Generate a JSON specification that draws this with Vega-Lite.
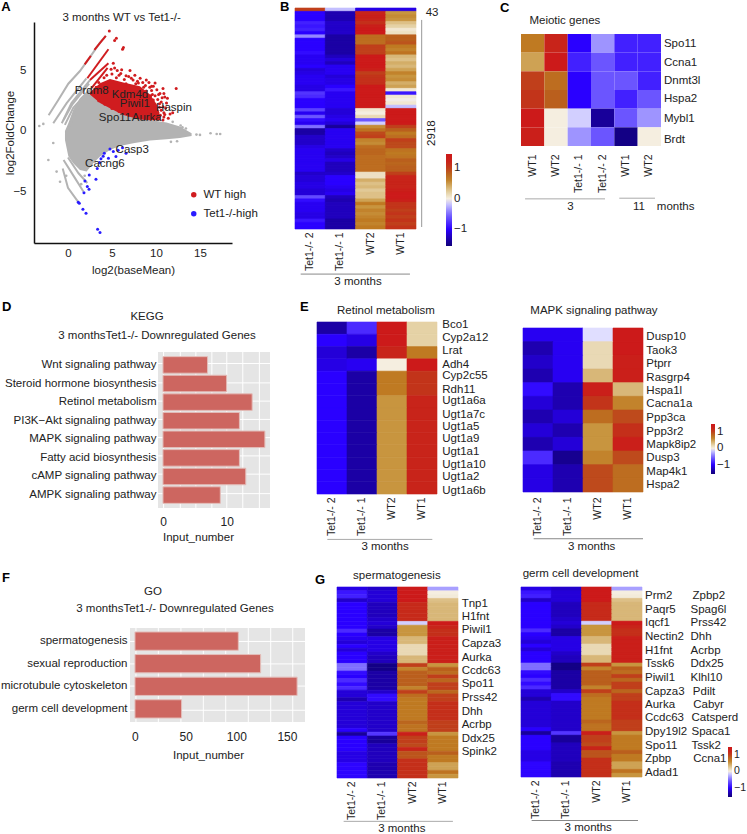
{"$schema":"https://vega.github.io/schema/vega-lite/v6.json","padding":0,"background":"white","width":747,"height":834,"autosize":{"type":"none"},
"config":{"font":"Liberation Sans","view":{"stroke":null},"axis":{"grid":false,"ticks":false,"domain":false,"labelFontSize":11.5,"titleFontSize":11.5,"titleFontWeight":"normal","labelColor":"#222","titleColor":"#222"},"text":{"fontSize":11.5,"color":"#222","align":"left","baseline":"middle"},"legend":{"labelFontSize":11.5,"labelColor":"#222"}},
"resolve":{"scale":{"x":"independent","y":"independent","color":"independent","stroke":"independent"},"axis":{"x":"independent","y":"independent"},"legend":{"color":"independent","stroke":"independent"}},
"datasets":{
"b":[{"r":0,"a":1,"b":-0.2,"c":-1.1,"d":-1.1},{"r":1,"a":-1,"b":-1.3,"c":1.2,"d":0.5},{"r":2,"a":-1,"b":-1.3,"c":1.25,"d":0.55},{"r":3,"a":-1,"b":-1.3,"c":1.2,"d":0.5},{"r":4,"a":-0.85,"b":-1.2,"c":1.1,"d":0.3},{"r":5,"a":-0.9,"b":-1.2,"c":1.25,"d":0.2},{"r":6,"a":-0.85,"b":-1.2,"c":1.3,"d":0.05},{"r":7,"a":-1,"b":-1.2,"c":1.3,"d":0.1},{"r":8,"a":-0.4,"b":-1.35,"c":0.75,"d":0.85},{"r":9,"a":-1,"b":-1.35,"c":0.75,"d":0.85},{"r":10,"a":-1,"b":-1.35,"c":0.75,"d":0.9},{"r":11,"a":-1,"b":-1.35,"c":1,"d":0.65},{"r":12,"a":-1,"b":-1.35,"c":1,"d":0.6},{"r":13,"a":-0.95,"b":-1.35,"c":1,"d":0.7},{"r":14,"a":-1.05,"b":-1.25,"c":1.3,"d":0.35},{"r":15,"a":-1.05,"b":-1.15,"c":1.3,"d":0.3},{"r":16,"a":-1.05,"b":-1.25,"c":1.3,"d":0.4},{"r":17,"a":-1,"b":-1.05,"c":1.3,"d":0.35},{"r":18,"a":-1.15,"b":-1.05,"c":1.25,"d":0.45},{"r":19,"a":-1.1,"b":-1.05,"c":1,"d":0.6},{"r":20,"a":-1.05,"b":-1.15,"c":1.05,"d":0.5},{"r":21,"a":-1.05,"b":-1.1,"c":1.1,"d":0.55},{"r":22,"a":-1.05,"b":-1.1,"c":1.1,"d":0.4},{"r":23,"a":-1.1,"b":-1,"c":1.3,"d":0.45},{"r":24,"a":-1.1,"b":-0.9,"c":1.3,"d":0.05},{"r":25,"a":-0.75,"b":-1.05,"c":1.35,"d":-0.9},{"r":26,"a":-0.8,"b":-1.05,"c":1.35,"d":0.05},{"r":27,"a":-1,"b":-1.05,"c":1.35,"d":-0.02},{"r":28,"a":-1,"b":-1.05,"c":1.35,"d":0.05},{"r":29,"a":-1,"b":-1.05,"c":1.35,"d":-0.2},{"r":30,"a":-0.7,"b":-1.15,"c":0.05,"d":1.35},{"r":31,"a":-1.05,"b":-1.15,"c":0,"d":1.35},{"r":32,"a":-0.6,"b":-1.1,"c":0.15,"d":1.35},{"r":33,"a":-0.95,"b":-1.05,"c":-0.6,"d":1.35},{"r":34,"a":-1.05,"b":-1.15,"c":-0.15,"d":1.35},{"r":35,"a":-0.5,"b":-1.4,"c":0.55,"d":1},{"r":36,"a":-1.35,"b":-1.05,"c":0.7,"d":0.85},{"r":37,"a":-1.35,"b":-1.05,"c":0.95,"d":0.65},{"r":38,"a":-1.2,"b":-1.05,"c":1,"d":0.75},{"r":39,"a":-1.2,"b":-1.05,"c":0.6,"d":1},{"r":40,"a":-1.2,"b":-1.05,"c":0.55,"d":0.95},{"r":41,"a":-1.1,"b":-1.05,"c":0.75,"d":0.95},{"r":42,"a":-1.05,"b":-1.2,"c":0.8,"d":0.7},{"r":43,"a":-1.05,"b":-1.25,"c":0.8,"d":0.65},{"r":44,"a":-1.05,"b":-1.2,"c":0.75,"d":0.7},{"r":45,"a":-1.05,"b":-1.1,"c":0.75,"d":0.85},{"r":46,"a":-1.05,"b":-1.25,"c":0.75,"d":0.8},{"r":47,"a":-1.05,"b":-1.25,"c":0.75,"d":0.85},{"r":48,"a":-1.05,"b":-1.25,"c":0.75,"d":0.85},{"r":49,"a":-1.2,"b":-1.2,"c":0.1,"d":1},{"r":50,"a":-1.15,"b":-1,"c":0.1,"d":1.2},{"r":51,"a":-1.15,"b":-1,"c":0.4,"d":1.2},{"r":52,"a":-1.1,"b":-1,"c":0.3,"d":1.2},{"r":53,"a":-1.1,"b":-1.05,"c":0.35,"d":1.2},{"r":54,"a":-1.15,"b":-1.1,"c":0.25,"d":1.25},{"r":55,"a":-1.15,"b":-1.05,"c":0.3,"d":1.3},{"r":56,"a":-0.65,"b":-1.25,"c":0.3,"d":1.3},{"r":57,"a":-0.95,"b":-1.3,"c":0.45,"d":1.25},{"r":58,"a":-1.05,"b":-1.25,"c":0.65,"d":1.05},{"r":59,"a":-1.05,"b":-1.25,"c":0.5,"d":1.05},{"r":60,"a":-1.05,"b":-1.25,"c":0.6,"d":1},{"r":61,"a":-1.1,"b":-1.25,"c":0.55,"d":1.05},{"r":62,"a":-1.1,"b":-1.25,"c":0.6,"d":1},{"r":63,"a":-0.9,"b":-1.35,"c":0.65,"d":1.05},{"r":64,"a":-1,"b":-1.35,"c":0.6,"d":1},{"r":65,"a":-1,"b":-1.35,"c":0.65,"d":1.05}],
"g":[{"r":0,"a":-1.1,"b":-1.2,"c":1.35,"d":-0.3},{"r":1,"a":-0.9,"b":-1.15,"c":1.35,"d":0},{"r":2,"a":-0.85,"b":-1.15,"c":1.35,"d":0.02},{"r":3,"a":-1.2,"b":-1.15,"c":1.35,"d":0.3},{"r":4,"a":-1,"b":-1.25,"c":1.15,"d":0.35},{"r":5,"a":-1,"b":-1.25,"c":1.15,"d":0.35},{"r":6,"a":-1,"b":-1.25,"c":1.15,"d":0.35},{"r":7,"a":-1,"b":-1.25,"c":1.15,"d":0.35},{"r":8,"a":-1,"b":-1.2,"c":1.15,"d":0.35},{"r":9,"a":-1,"b":-1.15,"c":-0.15,"d":1.3},{"r":10,"a":-1,"b":-1.2,"c":0.5,"d":1.2},{"r":11,"a":-0.8,"b":-1.35,"c":0.5,"d":1.1},{"r":12,"a":-1,"b":-1.35,"c":0.5,"d":1.1},{"r":13,"a":-1.05,"b":-1.1,"c":0.35,"d":1.25},{"r":14,"a":-1.15,"b":-1.1,"c":0.35,"d":1.25},{"r":15,"a":-1,"b":-1.1,"c":0.15,"d":1.25},{"r":16,"a":-1.15,"b":-1.1,"c":0.15,"d":1.25},{"r":17,"a":-1,"b":-1.2,"c":0.15,"d":1.25},{"r":18,"a":-1,"b":-1.25,"c":0.35,"d":1.25},{"r":19,"a":-1,"b":-1.25,"c":0.35,"d":1.25},{"r":20,"a":-0.5,"b":-1.5,"c":1,"d":0.5},{"r":21,"a":-0.5,"b":-1.5,"c":0.6,"d":0.85},{"r":22,"a":-0.95,"b":-1.35,"c":0.85,"d":0.75},{"r":23,"a":-1,"b":-1.35,"c":0.85,"d":1},{"r":24,"a":-0.8,"b":-1.35,"c":0.85,"d":0.8},{"r":25,"a":-0.95,"b":-1.35,"c":0.85,"d":1},{"r":26,"a":-0.8,"b":-1.35,"c":0.6,"d":1},{"r":27,"a":-1.15,"b":-1.2,"c":1,"d":0.8},{"r":28,"a":-1.15,"b":-0.95,"c":0.75,"d":1},{"r":29,"a":-1.3,"b":-0.95,"c":0.65,"d":1},{"r":30,"a":-1.15,"b":-1.2,"c":0.65,"d":1.1},{"r":31,"a":-1.15,"b":-1.2,"c":0.65,"d":1.1},{"r":32,"a":-1.15,"b":-1.2,"c":0.65,"d":1.1},{"r":33,"a":-1.15,"b":-1.2,"c":0.65,"d":1.1},{"r":34,"a":-1.15,"b":-1.2,"c":0.65,"d":1.1},{"r":35,"a":-1.15,"b":-1.2,"c":0.8,"d":1},{"r":36,"a":-1.15,"b":-1.2,"c":0.7,"d":1},{"r":37,"a":-1,"b":-1.2,"c":0.7,"d":1},{"r":38,"a":-1.4,"b":-0.75,"c":1.25,"d":0.5},{"r":39,"a":-1,"b":-1.4,"c":1,"d":0.65},{"r":40,"a":-1,"b":-1.4,"c":1,"d":0.65},{"r":41,"a":-1,"b":-1.25,"c":0.95,"d":0.65},{"r":42,"a":-1,"b":-1.25,"c":1.2,"d":0.65},{"r":43,"a":-1.1,"b":-1.25,"c":0.9,"d":0.85},{"r":44,"a":-1.1,"b":-1.25,"c":0.9,"d":0.65},{"r":45,"a":-1.1,"b":-1.25,"c":1.1,"d":0.65},{"r":46,"a":-0.98,"b":-1.3,"c":1.1,"d":0.45},{"r":47,"a":-0.98,"b":-1.3,"c":1.1,"d":0.45},{"r":48,"a":-0.98,"b":-1.3,"c":1.1,"d":0.7},{"r":49,"a":-0.98,"b":-1.3,"c":1.1,"d":0.5}],
"e2":[{"r":"Dusp10","a":-1.05,"b":-1.05,"c":-0.1,"d":1.35},{"r":"Taok3","a":-1.3,"b":-1.05,"c":0.15,"d":1.35},{"r":"Ptprr","a":-1.2,"b":-1.05,"c":0.15,"d":1.25},{"r":"Rasgrp4","a":-1.3,"b":-1.05,"c":0.35,"d":1.25},{"r":"Hspa1l","a":-0.95,"b":-1.3,"c":1.25,"d":0.35},{"r":"Cacna1a","a":-1.15,"b":-1.3,"c":1.05,"d":0.6},{"r":"Ppp3ca","a":-1.3,"b":-1.15,"c":0.75,"d":0.95},{"r":"Ppp3r2","a":-1.15,"b":-1.3,"c":0.5,"d":1.1},{"r":"Mapk8ip2","a":-1.3,"b":-1.15,"c":0.5,"d":1.25},{"r":"Dusp3","a":-0.8,"b":-1.45,"c":0.6,"d":0.95},{"r":"Map4k1","a":-1.1,"b":-1.3,"c":0.95,"d":0.75},{"r":"Hspa2","a":-1.1,"b":-1.3,"c":0.95,"d":0.75}]
},
"layer":[
{"encoding":{"x":{"field":"x","type":"quantitative","title":"log2(baseMean)","scale":{"domain":[-3.86,18.64],"range":[34,232],"nice":false,"zero":false},"axis":{"orient":"bottom","offset":-591,"domain":true,"domainColor":"#111","domainWidth":1.5,"values":[0,5,10,15],"labelPadding":4,"titlePadding":6}},"y":{"field":"y","type":"quantitative","title":"log2FoldChange","scale":{"domain":[-9.26,9],"range":[243,22],"nice":false,"zero":false},"axis":{"orient":"left","offset":-34,"domain":true,"domainColor":"#111","domainWidth":1.5,"values":[-5,0,5],"labelPadding":8,"titlePadding":-3}}},
"layer":[
{"data":{"values":[{"x":-0.34,"y":0,"y2":-0.75},{"x":0.04,"y":0.63,"y2":-2.1},{"x":0.6,"y":1.75,"y2":-2.67},{"x":1.36,"y":2.7,"y2":-3.22},{"x":2.12,"y":3.25,"y2":-3.36},{"x":2.88,"y":3.3,"y2":-2.67},{"x":3.64,"y":2.7,"y2":-2.12},{"x":4.77,"y":2,"y2":-1.57},{"x":5.9,"y":1.6,"y2":-1.24},{"x":7.42,"y":1.18,"y2":-1.02},{"x":9.32,"y":0.9,"y2":-0.8},{"x":11.2,"y":0.69,"y2":-0.69},{"x":12.73,"y":0.36,"y2":-0.58},{"x":14.05,"y":-0.19,"y2":-0.41}]},"mark":{"type":"area","color":"#b3b3b3"},"encoding":{"y2":{"field":"y2"}}},
{"data":{"values":[{"s":1,"x":-2.2,"y":1.3},{"s":1,"x":-1.1,"y":2.55},{"s":1,"x":0.04,"y":3.9},{"s":1,"x":1.36,"y":4.95},{"s":1,"x":2.5,"y":6.1},{"s":1,"x":3.6,"y":7.25},{"s":1,"x":4.3,"y":7.85},{"s":2,"x":-1.67,"y":0.63},{"s":2,"x":-0.15,"y":2.3},{"s":2,"x":2.1,"y":4.35},{"s":3,"x":-0.7,"y":0.63},{"s":3,"x":0.4,"y":2.3},{"s":3,"x":2.5,"y":4.2},{"s":4,"x":-0.35,"y":0.5},{"s":4,"x":0.6,"y":1.9},{"s":4,"x":2.7,"y":3.55},{"s":5,"x":0.1,"y":0.3},{"s":5,"x":1.1,"y":1.8},{"s":5,"x":2.9,"y":3.3},{"s":6,"x":-0.5,"y":-2.4},{"s":6,"x":0.8,"y":-3.9},{"s":6,"x":1.75,"y":-5},{"s":7,"x":-0.6,"y":-3.1},{"s":7,"x":0,"y":-4.7},{"s":7,"x":1.2,"y":-5.9},{"s":8,"x":0,"y":-2.2},{"s":8,"x":1.2,"y":-3.5},{"s":8,"x":2.2,"y":-4.3},{"s":9,"x":-0.5,"y":0.9},{"s":9,"x":0.5,"y":2.2},{"s":9,"x":2.4,"y":3.9}]},"mark":{"type":"line","color":"#b3b3b3","strokeWidth":2},"encoding":{"detail":{"field":"s"}}},
{"data":{"values":[{"s":1,"x":1.9,"y":5.5},{"s":1,"x":2.6,"y":6.2},{"s":2,"x":3,"y":6.7},{"s":2,"x":4.3,"y":7.85},{"s":3,"x":2.2,"y":4.35},{"s":3,"x":4.6,"y":6.75},{"s":4,"x":2.5,"y":4.2},{"s":4,"x":4.6,"y":5.6},{"s":5,"x":2.7,"y":3.55},{"s":5,"x":4.5,"y":5.2}]},"mark":{"type":"line","color":"#d01c1f","strokeWidth":2},"encoding":{"detail":{"field":"s"}}},
{"data":{"values":[{"x":2.5,"y":3.2,"y2":3},{"x":3.64,"y":3.94,"y2":2.3},{"x":4.77,"y":4.3,"y2":1.87},{"x":6.29,"y":4,"y2":1.32},{"x":8.18,"y":3.7,"y2":0.95},{"x":9.32,"y":3,"y2":0.88},{"x":10.08,"y":2.2,"y2":0.88},{"x":10.5,"y":1.2,"y2":0.88}]},"mark":{"type":"area","color":"#d01c1f"},"encoding":{"y2":{"field":"y2"}}},
{"data":{"values":[{"x":-3.26,"y":0.41},{"x":-2.8,"y":0.58},{"x":15,"y":-0.33},{"x":16.2,"y":-0.19},{"x":16.9,"y":-0.25},{"x":17.3,"y":-0.25},{"x":14.6,"y":-0.3},{"x":-2.23,"y":-2.4},{"x":-1.29,"y":-3.36},{"x":-1.67,"y":-1},{"x":-0.9,"y":-4.2},{"x":11.7,"y":-0.9},{"x":12.4,"y":-0.85},{"x":13,"y":0.3},{"x":13.4,"y":0.2},{"x":11.9,"y":0.75},{"x":12.8,"y":0.45},{"x":-0.2,"y":-3.7},{"x":1.9,"y":-3.7},{"x":1.5,"y":-4.4}]},"mark":{"type":"point","filled":true,"color":"#b3b3b3","size":7,"opacity":1}},
{"data":{"values":[{"c":"WT high","x":4.7,"y":8.25},{"c":"WT high","x":5.5,"y":7.66},{"c":"WT high","x":5.3,"y":7.47},{"c":"WT high","x":6.3,"y":6.9},{"c":"WT high","x":6.2,"y":6.75},{"c":"WT high","x":5.15,"y":5.6},{"c":"WT high","x":5.6,"y":5},{"c":"WT high","x":5.3,"y":5.2},{"c":"WT high","x":7.05,"y":5},{"c":"WT high","x":6,"y":4.75},{"c":"WT high","x":7.6,"y":4.6},{"c":"WT high","x":6.6,"y":4.55},{"c":"WT high","x":8.2,"y":4.35},{"c":"WT high","x":8.9,"y":4.2},{"c":"WT high","x":7.2,"y":4.35},{"c":"WT high","x":9.9,"y":3.95},{"c":"WT high","x":10.8,"y":3.5},{"c":"WT high","x":12.3,"y":3.5},{"c":"WT high","x":10.45,"y":3.1},{"c":"WT high","x":11,"y":2.8},{"c":"WT high","x":10.1,"y":3.4},{"c":"WT high","x":9.7,"y":3.7},{"c":"WT high","x":9.3,"y":3.6},{"c":"WT high","x":11.2,"y":2.3},{"c":"WT high","x":10.8,"y":2},{"c":"WT high","x":9.7,"y":2.55},{"c":"WT high","x":10.1,"y":1.7},{"c":"WT high","x":11.6,"y":1.4},{"c":"WT high","x":11.9,"y":1.5},{"c":"WT high","x":11.4,"y":1.05},{"c":"WT high","x":10.8,"y":0.9},{"c":"WT high","x":10.1,"y":1.3},{"c":"WT high","x":10.5,"y":1.3},{"c":"WT high","x":9,"y":2.55},{"c":"WT high","x":9.2,"y":2.1},{"c":"WT high","x":8.6,"y":3.6},{"c":"WT high","x":8,"y":3.95},{"c":"WT high","x":6.6,"y":3.9},{"c":"WT high","x":9.6,"y":3},{"c":"WT high","x":10.2,"y":2.6},{"c":"WT high","x":10.6,"y":2.4},{"c":"WT high","x":9.4,"y":2.9},{"c":"WT high","x":8.9,"y":3.3},{"c":"WT high","x":9.9,"y":2.1},{"c":"WT high","x":10.4,"y":1.95},{"c":"WT high","x":9.8,"y":1.5},{"c":"WT high","x":10.3,"y":1},{"c":"WT high","x":11,"y":1.35},{"c":"WT high","x":10.6,"y":1.7},{"c":"WT high","x":8.5,"y":3},{"c":"WT high","x":9.1,"y":1.4},{"c":"WT high","x":9.5,"y":1.1},{"c":"WT high","x":7.9,"y":4.1},{"c":"WT high","x":8.5,"y":4},{"c":"WT high","x":7.4,"y":4.2},{"c":"WT high","x":5.8,"y":4.6},{"c":"WT high","x":5,"y":4.7},{"c":"WT high","x":4.4,"y":4.6},{"c":"WT high","x":4.1,"y":4.4},{"c":"WT high","x":3.5,"y":4},{"c":"WT high","x":3.2,"y":3.6},{"c":"WT high","x":3.9,"y":3.3},{"c":"WT high","x":4.9,"y":5.1},{"c":"WT high","x":6.1,"y":5.05},{"c":"WT high","x":6.9,"y":4.5},{"c":"WT high","x":9.2,"y":4},{"c":"WT high","x":9.5,"y":3.35},{"c":"WT high","x":10.9,"y":3.1},{"c":"WT high","x":11.3,"y":2.7},{"c":"WT high","x":11.1,"y":1.9},{"c":"WT high","x":10.2,"y":1.55},{"c":"WT high","x":8.7,"y":1.2},{"c":"WT high","x":7.8,"y":1.1},{"c":"WT high","x":6.9,"y":1.3},{"c":"WT high","x":5.8,"y":1.6},{"c":"WT high","x":5,"y":1.85},{"c":"WT high","x":4.2,"y":2.2},{"c":"WT high","x":3.5,"y":2.5},{"c":"WT high","x":8.8,"y":3.75},{"c":"WT high","x":7.7,"y":3.9},{"c":"WT high","x":6.4,"y":4.25},{"c":"WT high","x":5.5,"y":4.4},{"c":"WT high","x":9.9,"y":2.9},{"c":"WT high","x":10.3,"y":3},{"c":"WT high","x":10.7,"y":2.75},{"c":"WT high","x":10.4,"y":2.25},{"c":"WT high","x":9.5,"y":3.7},{"c":"WT high","x":10.9,"y":1.5},{"c":"WT high","x":10.9,"y":1.15},{"c":"Tet1-/-high","x":6.6,"y":-1.85},{"c":"Tet1-/-high","x":6.2,"y":-1.38},{"c":"Tet1-/-high","x":5.45,"y":-2.12},{"c":"Tet1-/-high","x":5.15,"y":-1.7},{"c":"Tet1-/-high","x":4.77,"y":-1.5},{"c":"Tet1-/-high","x":5.7,"y":-1.6},{"c":"Tet1-/-high","x":4.13,"y":-1.85},{"c":"Tet1-/-high","x":4,"y":-2.1},{"c":"Tet1-/-high","x":4.6,"y":-2.26},{"c":"Tet1-/-high","x":3.75,"y":-2.3},{"c":"Tet1-/-high","x":3.6,"y":-2.6},{"c":"Tet1-/-high","x":3.33,"y":-3.1},{"c":"Tet1-/-high","x":2.42,"y":-3.64},{"c":"Tet1-/-high","x":3.18,"y":-4},{"c":"Tet1-/-high","x":1.93,"y":-4.13},{"c":"Tet1-/-high","x":2.2,"y":-4.6},{"c":"Tet1-/-high","x":2.39,"y":-4.82},{"c":"Tet1-/-high","x":1.82,"y":-5.1},{"c":"Tet1-/-high","x":1.17,"y":-5.9},{"c":"Tet1-/-high","x":1.29,"y":-5.98},{"c":"Tet1-/-high","x":1.7,"y":-6.47},{"c":"Tet1-/-high","x":2.05,"y":-6.8},{"c":"Tet1-/-high","x":3.37,"y":-8.13},{"c":"Tet1-/-high","x":3.64,"y":-8.4}]},"mark":{"type":"point","filled":true,"size":9,"opacity":1},"encoding":{"color":{"field":"c","type":"nominal","scale":{"domain":["WT high","Tet1-/-high"],"range":["#d01c1f","#2a1cff"]},"legend":{"title":null,"orient":"none","legendX":188,"legendY":189,"symbolSize":30,"rowPadding":6,"labelFontSize":11.5,"symbolType":"circle"}}}},
{"data":{"values":[{"t":"Prdm8","x":2.7,"y":3.27},{"t":"Kdm4d","x":7.05,"y":2.98},{"t":"Piwil1","x":7.6,"y":2.2},{"t":"Haspin","x":12.05,"y":1.88},{"t":"Spo11","x":5.35,"y":1.05},{"t":"Aurka","x":8.95,"y":1.05},{"t":"Casp3","x":7.3,"y":-1.57},{"t":"Cacng6","x":4.2,"y":-2.73},{"t":"3 months WT vs Tet1-/-","x":6.1,"y":9.3}]},"mark":{"type":"text","align":"center"},"encoding":{"text":{"field":"t"}}},
{"data":{"values":[{"t":"A","x":-3.6,"y":10.25}]},"mark":{"type":"text","fontWeight":"bold","fontSize":13,"color":"#000","dx":-35},"encoding":{"text":{"field":"t"}}}
]},

{"data":{"name":"b"},"transform":[{"fold":["a","b","c","d"]}],"mark":"rect","encoding":{"x":{"field":"key","type":"nominal","axis":null,"scale":{"domain":["a","b","c","d"],"range":[295,416],"paddingInner":0,"paddingOuter":0}},"y":{"field":"r","type":"ordinal","sort":null,"axis":null,"scale":{"range":[8,229],"paddingInner":0,"paddingOuter":0}},"color":{"field":"value","type":"quantitative","title":null,"scale":{"domain":[-1.55,-1.3,-1,-0.6,-0.3,-0.1,0,0.2,0.4,0.5,0.65,0.85,1.05,1.3,1.46],"range":["#10007a","#1e00b0","#2a00ff","#6b55ff","#a8a0ff","#e0deff","#f5eee0","#e5d2a6","#d4ae68","#c8953f","#bf7a22","#ba5f1d","#c2341a","#cc1a1a","#cc1a1a"],"interpolate":"rgb","nice":false,"zero":false},"legend":{"orient":"none","legendX":446,"legendY":154,"gradientLength":92,"gradientThickness":6,"values":[-1,0,1],"labelFontSize":11.5,"gradientStrokeWidth":0}}}},
{"data":{"name":"b"},"transform":[{"fold":["a","b","c","d"]}],"mark":{"type":"rect","strokeWidth":0.6},"encoding":{"x":{"field":"key","type":"nominal","title":null,"scale":{"domain":["a","b","c","d"],"range":[295,416],"paddingInner":0,"paddingOuter":0},"axis":{"orient":"bottom","offset":-605,"labelAngle":-90,"labelPadding":3,"labelFontSize":10.5,"labelExpr":"{'a':'Tet1-/- 2','b':'Tet1-/- 1','c':'WT2','d':'WT1'}[datum.value]"}},"y":{"field":"r","type":"ordinal","sort":null,"axis":null,"scale":{"range":[8,229],"paddingInner":0,"paddingOuter":0}},"stroke":{"field":"value","type":"quantitative","legend":null,"scale":{"domain":[-1.55,-1.3,-1,-0.6,-0.3,-0.1,0,0.2,0.4,0.5,0.65,0.85,1.05,1.3,1.46],"range":["#10007a","#1e00b0","#2a00ff","#6b55ff","#a8a0ff","#e0deff","#f5eee0","#e5d2a6","#d4ae68","#c8953f","#bf7a22","#ba5f1d","#c2341a","#cc1a1a","#cc1a1a"],"interpolate":"rgb","nice":false,"zero":false}},"color":{"field":"value","type":"quantitative","legend":null,"scale":{"domain":[-1.55,-1.3,-1,-0.6,-0.3,-0.1,0,0.2,0.4,0.5,0.65,0.85,1.05,1.3,1.46],"range":["#10007a","#1e00b0","#2a00ff","#6b55ff","#a8a0ff","#e0deff","#f5eee0","#e5d2a6","#d4ae68","#c8953f","#bf7a22","#ba5f1d","#c2341a","#cc1a1a","#cc1a1a"],"interpolate":"rgb","nice":false,"zero":false}}}},
{"data":{"values":[{"x":1.047,"y":0.054,"y2":0.991}]},"mark":{"type":"rule","color":"#999"},"encoding":{"x":{"field":"x","type":"quantitative","axis":null,"scale":{"domain":[0,1],"range":[295,416],"nice":false,"zero":false}},"y":{"field":"y","type":"quantitative","axis":null,"scale":{"domain":[1,0],"range":[229,8],"nice":false,"zero":false}},"y2":{"field":"y2"}}},
{"data":{"values":[{"x":0.047,"x2":0.95,"y":1.204}]},"mark":{"type":"rule","color":"#888"},"encoding":{"x":{"field":"x","type":"quantitative","axis":null,"scale":{"domain":[0,1],"range":[295,416],"nice":false,"zero":false}},"x2":{"field":"x2"},"y":{"field":"y","type":"quantitative","axis":null,"scale":{"domain":[1,0],"range":[229,8],"nice":false,"zero":false}}}},
{"data":{"values":[{"t":"43","x":1.08,"y":0.023},{"t":"3 months","x":0.325,"y":1.24}]},"mark":{"type":"text"},"encoding":{"x":{"field":"x","type":"quantitative","axis":null,"scale":{"domain":[0,1],"range":[295,416],"nice":false,"zero":false}},"y":{"field":"y","type":"quantitative","axis":null,"scale":{"domain":[1,0],"range":[229,8],"nice":false,"zero":false}},"text":{"field":"t"}}},
{"data":{"values":[{"t":"2918","x":1.132,"y":0.566}]},"mark":{"type":"text","angle":270,"align":"center"},"encoding":{"x":{"field":"x","type":"quantitative","axis":null,"scale":{"domain":[0,1],"range":[295,416],"nice":false,"zero":false}},"y":{"field":"y","type":"quantitative","axis":null,"scale":{"domain":[1,0],"range":[229,8],"nice":false,"zero":false}},"text":{"field":"t"}}},
{"data":{"values":[{"t":"B","x":-0.124,"y":-0.005}]},"mark":{"type":"text","fontWeight":"bold","fontSize":13,"color":"#000"},"encoding":{"x":{"field":"x","type":"quantitative","axis":null,"scale":{"domain":[0,1],"range":[295,416],"nice":false,"zero":false}},"y":{"field":"y","type":"quantitative","axis":null,"scale":{"domain":[1,0],"range":[229,8],"nice":false,"zero":false}},"text":{"field":"t"}}},

{"data":{"values":[{"r":"Spo11","a":0.65,"b":1.2,"c":-1,"d":-0.35,"e":-0.85,"f":-0.85},{"r":"Ccna1","a":0.45,"b":1.4,"c":-0.85,"d":-0.6,"e":-0.85,"f":-0.85},{"r":"Dnmt3l","a":1,"b":0.75,"c":-1,"d":-0.6,"e":-0.6,"f":-0.85},{"r":"Hspa2","a":1.05,"b":0.85,"c":-1,"d":-0.6,"e":-0.85,"f":-0.6},{"r":"Mybl1","a":1.35,"b":0,"c":-0.15,"d":-1.4,"e":-0.6,"f":-0.35},{"r":"Brdt","a":1.25,"b":0,"c":-0.35,"d":-0.6,"e":-1.5,"f":0}]},"transform":[{"fold":["a","b","c","d","e","f"]}],"mark":"rect","encoding":{"x":{"field":"key","type":"nominal","title":null,"scale":{"domain":["a","b","c","d","e","f"],"range":[521,661],"paddingInner":0,"paddingOuter":0},"axis":{"orient":"bottom","offset":-688,"labelAngle":-90,"labelPadding":8,"labelFontSize":10.5,"labelExpr":"{'a':'WT1','b':'WT2','c':'Tet1-/- 1','d':'Tet1-/- 2','e':'WT1','f':'WT2'}[datum.value]"}},"y":{"field":"r","type":"ordinal","sort":null,"axis":null,"scale":{"range":[34,146],"paddingInner":0,"paddingOuter":0}},"color":{"field":"value","type":"quantitative","scale":{"domain":[-1.55,-1.3,-1,-0.6,-0.3,-0.1,0,0.2,0.4,0.5,0.65,0.85,1.05,1.3,1.46],"range":["#10007a","#1e00b0","#2a00ff","#6b55ff","#a8a0ff","#e0deff","#f5eee0","#e5d2a6","#d4ae68","#c8953f","#bf7a22","#ba5f1d","#c2341a","#cc1a1a","#cc1a1a"],"interpolate":"rgb","nice":false,"zero":false},"legend":null}}},
{"data":{"values":[{"x":0.029,"x2":0.6,"y":1.472},{"x":0.702,"x2":0.957,"y":1.466}]},"mark":{"type":"rule","color":"#aaa"},"encoding":{"x":{"field":"x","type":"quantitative","axis":null,"scale":{"domain":[0,1],"range":[521,661],"nice":false,"zero":false}},"x2":{"field":"x2"},"y":{"field":"y","type":"quantitative","axis":null,"scale":{"domain":[1,0],"range":[146,34],"nice":false,"zero":false}}}},
{"data":{"values":[{"t":"Spo11","x":1.021,"y":0.09},{"t":"Ccna1","x":1.021,"y":0.257},{"t":"Dnmt3l","x":1.021,"y":0.418},{"t":"Hspa2","x":1.021,"y":0.582},{"t":"Mybl1","x":1.021,"y":0.761},{"t":"Brdt","x":1.021,"y":0.949},{"t":"Meiotic genes","x":0.06,"y":-0.119},{"t":"3","x":0.33,"y":1.546},{"t":"11","x":0.8,"y":1.546},{"t":"months","x":0.97,"y":1.546}]},"mark":{"type":"text"},"encoding":{"x":{"field":"x","type":"quantitative","axis":null,"scale":{"domain":[0,1],"range":[521,661],"nice":false,"zero":false}},"y":{"field":"y","type":"quantitative","axis":null,"scale":{"domain":[1,0],"range":[146,34],"nice":false,"zero":false}},"text":{"field":"t"}}},
{"data":{"values":[{"t":"C","x":-0.15,"y":-0.232}]},"mark":{"type":"text","fontWeight":"bold","fontSize":13,"color":"#000"},"encoding":{"x":{"field":"x","type":"quantitative","axis":null,"scale":{"domain":[0,1],"range":[521,661],"nice":false,"zero":false}},"y":{"field":"y","type":"quantitative","axis":null,"scale":{"domain":[1,0],"range":[146,34],"nice":false,"zero":false}},"text":{"field":"t"}}},

{"data":{"values":[{"x":0,"x2":1,"y":0,"y2":1}]},"mark":{"type":"rect","color":"#e5e5e5"},"encoding":{"x":{"field":"x","type":"quantitative","axis":null,"scale":{"domain":[0,1],"range":[158,270],"nice":false,"zero":false}},"x2":{"field":"x2"},"y":{"field":"y","type":"quantitative","axis":null,"scale":{"domain":[1,0],"range":[508,352],"nice":false,"zero":false}},"y2":{"field":"y2"}}},
{"data":{"values":[{"x":0.05,"y":0,"y2":1},{"x":0.199,"y":0,"y2":1},{"x":0.338,"y":0,"y2":1},{"x":0.481,"y":0,"y2":1},{"x":0.614,"y":0,"y2":1},{"x":0.757,"y":0,"y2":1},{"x":0.905,"y":0,"y2":1}]},"mark":{"type":"rule","color":"white"},"encoding":{"x":{"field":"x","type":"quantitative","axis":null,"scale":{"domain":[0,1],"range":[158,270],"nice":false,"zero":false}},"y":{"field":"y","type":"quantitative","axis":null,"scale":{"domain":[1,0],"range":[508,352],"nice":false,"zero":false}},"y2":{"field":"y2"}}},
{"data":{"values":[{"x":0,"x2":1,"y":0.074},{"x":0,"x2":1,"y":0.198},{"x":0,"x2":1,"y":0.315},{"x":0,"x2":1,"y":0.432},{"x":0,"x2":1,"y":0.549},{"x":0,"x2":1,"y":0.666},{"x":0,"x2":1,"y":0.783},{"x":0,"x2":1,"y":0.908}]},"mark":{"type":"rule","color":"white"},"encoding":{"x":{"field":"x","type":"quantitative","axis":null,"scale":{"domain":[0,1],"range":[158,270],"nice":false,"zero":false}},"x2":{"field":"x2"},"y":{"field":"y","type":"quantitative","axis":null,"scale":{"domain":[1,0],"range":[508,352],"nice":false,"zero":false}}}},
{"data":{"values":[{"p":"Wnt signaling pathway","n":7},{"p":"Steroid hormone biosynthesis","n":10},{"p":"Retinol metabolism","n":14},{"p":"PI3K−Akt signaling pathway","n":12},{"p":"MAPK signaling pathway","n":16},{"p":"Fatty acid biosynthesis","n":12},{"p":"cAMP signaling pathway","n":13},{"p":"AMPK signaling pathway","n":9}]},"mark":{"type":"bar","fill":"#cd6660","stroke":"#e3bdb9","strokeWidth":1},"encoding":{"x":{"field":"n","type":"quantitative","title":"Input_number","scale":{"domain":[-0.78,16.8],"range":[158,270],"nice":false,"zero":false},"axis":{"orient":"bottom","offset":-326,"values":[0,10],"labelPadding":8,"labelFontSize":12,"titleX":198,"titleY":29,"titleBaseline":"middle","titleFontSize":11.5}},"y":{"field":"p","type":"nominal","sort":null,"title":null,"scale":{"range":[352,508],"paddingInner":0.11,"paddingOuter":0.25},"axis":{"orient":"left","offset":-158,"labelPadding":2,"labelLimit":300}}}},
{"data":{"values":[{"t":"KEGG","x":-0.098,"y":-0.224},{"t":"3 monthsTet1-/- Downregulated Genes","x":-0.009,"y":-0.103}]},"mark":{"type":"text","align":"center"},"encoding":{"x":{"field":"x","type":"quantitative","axis":null,"scale":{"domain":[0,1],"range":[158,270],"nice":false,"zero":false}},"y":{"field":"y","type":"quantitative","axis":null,"scale":{"domain":[1,0],"range":[508,352],"nice":false,"zero":false}},"text":{"field":"t"}}},
{"data":{"values":[{"t":"D","x":-1.393,"y":-0.288}]},"mark":{"type":"text","fontWeight":"bold","fontSize":13,"color":"#000"},"encoding":{"x":{"field":"x","type":"quantitative","axis":null,"scale":{"domain":[0,1],"range":[158,270],"nice":false,"zero":false}},"y":{"field":"y","type":"quantitative","axis":null,"scale":{"domain":[1,0],"range":[508,352],"nice":false,"zero":false}},"text":{"field":"t"}}},

{"data":{"values":[{"r":"Bco1","a":-1.35,"b":-0.8,"c":1.35,"d":0.2},{"r":"Cyp2a12","a":-1,"b":-1.1,"c":1.35,"d":0.2},{"r":"Lrat","a":-1.15,"b":-1.35,"c":1.2,"d":0.65},{"r":"Adh4","a":-1.1,"b":-1.05,"c":0,"d":1.35},{"r":"Cyp2c55","a":-1,"b":-1.35,"c":0.65,"d":1.05},{"r":"Rdh11","a":-1,"b":-1.35,"c":0.65,"d":1.05},{"r":"Ugt1a6a","a":-1,"b":-1.35,"c":0.5,"d":1.2},{"r":"Ugt1a7c","a":-1,"b":-1.35,"c":0.5,"d":1.2},{"r":"Ugt1a5","a":-1,"b":-1.35,"c":0.5,"d":1.2},{"r":"Ugt1a9","a":-1,"b":-1.35,"c":0.5,"d":1.2},{"r":"Ugt1a1","a":-1,"b":-1.35,"c":0.5,"d":1.2},{"r":"Ugt1a10","a":-1,"b":-1.35,"c":0.5,"d":1.2},{"r":"Ugt1a2","a":-1,"b":-1.35,"c":0.5,"d":1.2},{"r":"Ugt1a6b","a":-1,"b":-1.35,"c":0.5,"d":1.2}]},"transform":[{"fold":["a","b","c","d"]}],"mark":{"type":"rect","strokeWidth":0.6},"encoding":{"x":{"field":"key","type":"nominal","title":null,"scale":{"domain":["a","b","c","d"],"range":[317,437],"paddingInner":0,"paddingOuter":0},"axis":{"orient":"bottom","offset":-340,"labelAngle":-90,"labelPadding":3,"labelFontSize":10.5,"labelExpr":"{'a':'Tet1-/- 2','b':'Tet1-/- 1','c':'WT2','d':'WT1'}[datum.value]"}},"y":{"field":"r","type":"ordinal","sort":null,"axis":null,"scale":{"range":[322,494],"paddingInner":0,"paddingOuter":0}},"stroke":{"field":"value","type":"quantitative","legend":null,"scale":{"domain":[-1.55,-1.3,-1,-0.6,-0.3,-0.1,0,0.2,0.4,0.5,0.65,0.85,1.05,1.3,1.46],"range":["#10007a","#1e00b0","#2a00ff","#6b55ff","#a8a0ff","#e0deff","#f5eee0","#e5d2a6","#d4ae68","#c8953f","#bf7a22","#ba5f1d","#c2341a","#cc1a1a","#cc1a1a"],"interpolate":"rgb","nice":false,"zero":false}},"color":{"field":"value","type":"quantitative","scale":{"domain":[-1.55,-1.3,-1,-0.6,-0.3,-0.1,0,0.2,0.4,0.5,0.65,0.85,1.05,1.3,1.46],"range":["#10007a","#1e00b0","#2a00ff","#6b55ff","#a8a0ff","#e0deff","#f5eee0","#e5d2a6","#d4ae68","#c8953f","#bf7a22","#ba5f1d","#c2341a","#cc1a1a","#cc1a1a"],"interpolate":"rgb","nice":false,"zero":false},"legend":null}}},
{"data":{"values":[{"x":0.086,"x2":0.961,"y":1.264}]},"mark":{"type":"rule","color":"#aaa"},"encoding":{"x":{"field":"x","type":"quantitative","axis":null,"scale":{"domain":[0,1],"range":[317,437],"nice":false,"zero":false}},"x2":{"field":"x2"},"y":{"field":"y","type":"quantitative","axis":null,"scale":{"domain":[1,0],"range":[494,322],"nice":false,"zero":false}}}},
{"data":{"values":[{"t":"Bco1","x":1.044,"y":0.016},{"t":"Cyp2a12","x":1.044,"y":0.093},{"t":"Lrat","x":1.044,"y":0.171},{"t":"Adh4","x":1.044,"y":0.248},{"t":"Cyp2c55","x":1.044,"y":0.316},{"t":"Rdh11","x":1.044,"y":0.393},{"t":"Ugt1a6a","x":1.044,"y":0.461},{"t":"Ugt1a7c","x":1.044,"y":0.539},{"t":"Ugt1a5","x":1.044,"y":0.61},{"t":"Ugt1a9","x":1.044,"y":0.68},{"t":"Ugt1a1","x":1.044,"y":0.756},{"t":"Ugt1a10","x":1.044,"y":0.829},{"t":"Ugt1a2","x":1.044,"y":0.901},{"t":"Ugt1a6b","x":1.044,"y":0.981},{"t":"Retinol metabolism","x":0.167,"y":-0.062},{"t":"3 months","x":0.37,"y":1.308}]},"mark":{"type":"text"},"encoding":{"x":{"field":"x","type":"quantitative","axis":null,"scale":{"domain":[0,1],"range":[317,437],"nice":false,"zero":false}},"y":{"field":"y","type":"quantitative","axis":null,"scale":{"domain":[1,0],"range":[494,322],"nice":false,"zero":false}},"text":{"field":"t"}}},
{"data":{"values":[{"t":"E","x":-0.142,"y":-0.087}]},"mark":{"type":"text","fontWeight":"bold","fontSize":13,"color":"#000"},"encoding":{"x":{"field":"x","type":"quantitative","axis":null,"scale":{"domain":[0,1],"range":[317,437],"nice":false,"zero":false}},"y":{"field":"y","type":"quantitative","axis":null,"scale":{"domain":[1,0],"range":[494,322],"nice":false,"zero":false}},"text":{"field":"t"}}},

{"data":{"name":"e2"},"transform":[{"fold":["a","b","c","d"]}],"mark":"rect","encoding":{"x":{"field":"key","type":"nominal","axis":null,"scale":{"domain":["a","b","c","d"],"range":[523,643],"paddingInner":0,"paddingOuter":0}},"y":{"field":"r","type":"ordinal","sort":null,"axis":null,"scale":{"range":[328,492],"paddingInner":0,"paddingOuter":0}},"color":{"field":"value","type":"quantitative","title":null,"scale":{"domain":[-1.55,-1.3,-1,-0.6,-0.3,-0.1,0,0.2,0.4,0.5,0.65,0.85,1.05,1.3,1.46],"range":["#10007a","#1e00b0","#2a00ff","#6b55ff","#a8a0ff","#e0deff","#f5eee0","#e5d2a6","#d4ae68","#c8953f","#bf7a22","#ba5f1d","#c2341a","#cc1a1a","#cc1a1a"],"interpolate":"rgb","nice":false,"zero":false},"legend":{"orient":"none","legendX":711,"legendY":424,"gradientLength":50,"gradientThickness":4,"values":[-1,0,1],"labelFontSize":11.5,"gradientStrokeWidth":0}}}},
{"data":{"name":"e2"},"transform":[{"fold":["a","b","c","d"]}],"mark":{"type":"rect","strokeWidth":0.6},"encoding":{"x":{"field":"key","type":"nominal","title":null,"scale":{"domain":["a","b","c","d"],"range":[523,643],"paddingInner":0,"paddingOuter":0},"axis":{"orient":"bottom","offset":-342,"labelAngle":-90,"labelPadding":5,"labelFontSize":10.5,"labelExpr":"{'a':'Tet1-/- 2','b':'Tet1-/- 1','c':'WT2','d':'WT1'}[datum.value]"}},"y":{"field":"r","type":"ordinal","sort":null,"axis":null,"scale":{"range":[328,492],"paddingInner":0,"paddingOuter":0}},"stroke":{"field":"value","type":"quantitative","legend":null,"scale":{"domain":[-1.55,-1.3,-1,-0.6,-0.3,-0.1,0,0.2,0.4,0.5,0.65,0.85,1.05,1.3,1.46],"range":["#10007a","#1e00b0","#2a00ff","#6b55ff","#a8a0ff","#e0deff","#f5eee0","#e5d2a6","#d4ae68","#c8953f","#bf7a22","#ba5f1d","#c2341a","#cc1a1a","#cc1a1a"],"interpolate":"rgb","nice":false,"zero":false}},"color":{"field":"value","type":"quantitative","legend":null,"scale":{"domain":[-1.55,-1.3,-1,-0.6,-0.3,-0.1,0,0.2,0.4,0.5,0.65,0.85,1.05,1.3,1.46],"range":["#10007a","#1e00b0","#2a00ff","#6b55ff","#a8a0ff","#e0deff","#f5eee0","#e5d2a6","#d4ae68","#c8953f","#bf7a22","#ba5f1d","#c2341a","#cc1a1a","#cc1a1a"],"interpolate":"rgb","nice":false,"zero":false}}}},
{"data":{"values":[{"x":0.089,"x2":1,"y":1.285}]},"mark":{"type":"rule","color":"#888"},"encoding":{"x":{"field":"x","type":"quantitative","axis":null,"scale":{"domain":[0,1],"range":[523,643],"nice":false,"zero":false}},"x2":{"field":"x2"},"y":{"field":"y","type":"quantitative","axis":null,"scale":{"domain":[1,0],"range":[492,328],"nice":false,"zero":false}}}},
{"data":{"values":[{"t":"Dusp10","x":1.028,"y":0.055},{"t":"Taok3","x":1.028,"y":0.138},{"t":"Ptprr","x":1.028,"y":0.221},{"t":"Rasgrp4","x":1.028,"y":0.302},{"t":"Hspa1l","x":1.028,"y":0.385},{"t":"Cacna1a","x":1.028,"y":0.466},{"t":"Ppp3ca","x":1.028,"y":0.551},{"t":"Ppp3r2","x":1.028,"y":0.632},{"t":"Mapk8ip2","x":1.028,"y":0.713},{"t":"Dusp3","x":1.028,"y":0.794},{"t":"Map4k1","x":1.028,"y":0.879},{"t":"Hspa2","x":1.028,"y":0.96},{"t":"MAPK signaling pathway","x":0.061,"y":-0.105},{"t":"3 months","x":0.375,"y":1.334}]},"mark":{"type":"text"},"encoding":{"x":{"field":"x","type":"quantitative","axis":null,"scale":{"domain":[0,1],"range":[523,643],"nice":false,"zero":false}},"y":{"field":"y","type":"quantitative","axis":null,"scale":{"domain":[1,0],"range":[492,328],"nice":false,"zero":false}},"text":{"field":"t"}}},

{"data":{"values":[{"x":0,"x2":1,"y":0,"y2":1}]},"mark":{"type":"rect","color":"#e5e5e5"},"encoding":{"x":{"field":"x","type":"quantitative","axis":null,"scale":{"domain":[0,1],"range":[130,305],"nice":false,"zero":false}},"x2":{"field":"x2"},"y":{"field":"y","type":"quantitative","axis":null,"scale":{"domain":[1,0],"range":[722,628],"nice":false,"zero":false}},"y2":{"field":"y2"}}},
{"data":{"values":[{"x":0.034,"y":0,"y2":1},{"x":0.162,"y":0,"y2":1},{"x":0.291,"y":0,"y2":1},{"x":0.419,"y":0,"y2":1},{"x":0.547,"y":0,"y2":1},{"x":0.676,"y":0,"y2":1},{"x":0.804,"y":0,"y2":1},{"x":0.93,"y":0,"y2":1}]},"mark":{"type":"rule","color":"white"},"encoding":{"x":{"field":"x","type":"quantitative","axis":null,"scale":{"domain":[0,1],"range":[130,305],"nice":false,"zero":false}},"y":{"field":"y","type":"quantitative","axis":null,"scale":{"domain":[1,0],"range":[722,628],"nice":false,"zero":false}},"y2":{"field":"y2"}}},
{"data":{"values":[{"x":0,"x2":1,"y":0.143},{"x":0,"x2":1,"y":0.382},{"x":0,"x2":1,"y":0.618},{"x":0,"x2":1,"y":0.875}]},"mark":{"type":"rule","color":"white"},"encoding":{"x":{"field":"x","type":"quantitative","axis":null,"scale":{"domain":[0,1],"range":[130,305],"nice":false,"zero":false}},"x2":{"field":"x2"},"y":{"field":"y","type":"quantitative","axis":null,"scale":{"domain":[1,0],"range":[722,628],"nice":false,"zero":false}}}},
{"data":{"values":[{"p":"spermatogenesis","n":102},{"p":"sexual reproduction","n":124},{"p":"microtubule cytoskeleton","n":160},{"p":"germ cell development","n":46}]},"mark":{"type":"bar","fill":"#cd6660","stroke":"#e3bdb9","strokeWidth":1},"encoding":{"x":{"field":"n","type":"quantitative","title":"Input_number","scale":{"domain":[-4.9,167.8],"range":[130,305],"nice":false,"zero":false},"axis":{"orient":"bottom","offset":-112,"values":[0,50,100,150],"labelPadding":9,"labelFontSize":12,"titleX":208,"titleY":33,"titleBaseline":"middle"}},"y":{"field":"p","type":"nominal","sort":null,"title":null,"scale":{"range":[628,722],"paddingInner":0.19,"paddingOuter":0.175},"axis":{"orient":"left","offset":-130,"labelPadding":3,"labelLimit":300}}}},
{"data":{"values":[{"t":"GO","x":0.131,"y":-0.383},{"t":"3 monthsTet1-/- Downregulated Genes","x":0.257,"y":-0.202}]},"mark":{"type":"text","align":"center"},"encoding":{"x":{"field":"x","type":"quantitative","axis":null,"scale":{"domain":[0,1],"range":[130,305],"nice":false,"zero":false}},"y":{"field":"y","type":"quantitative","axis":null,"scale":{"domain":[1,0],"range":[722,628],"nice":false,"zero":false}},"text":{"field":"t"}}},
{"data":{"values":[{"t":"F","x":-0.731,"y":-0.532}]},"mark":{"type":"text","fontWeight":"bold","fontSize":13,"color":"#000"},"encoding":{"x":{"field":"x","type":"quantitative","axis":null,"scale":{"domain":[0,1],"range":[130,305],"nice":false,"zero":false}},"y":{"field":"y","type":"quantitative","axis":null,"scale":{"domain":[1,0],"range":[722,628],"nice":false,"zero":false}},"text":{"field":"t"}}},

{"data":{"name":"g"},"transform":[{"fold":["a","b","c","d"]}],"mark":{"type":"rect","strokeWidth":0.6},"encoding":{"x":{"field":"key","type":"nominal","title":null,"scale":{"domain":["a","b","c","d"],"range":[337,458],"paddingInner":0,"paddingOuter":0},"axis":{"orient":"bottom","offset":-56,"labelAngle":-90,"labelPadding":3,"labelFontSize":10.5,"labelExpr":"{'a':'Tet1-/- 2','b':'Tet1-/- 1','c':'WT2','d':'WT1'}[datum.value]"}},"y":{"field":"r","type":"ordinal","sort":null,"axis":null,"scale":{"range":[587,778],"paddingInner":0,"paddingOuter":0}},"stroke":{"field":"value","type":"quantitative","legend":null,"scale":{"domain":[-1.55,-1.3,-1,-0.6,-0.3,-0.1,0,0.2,0.4,0.5,0.65,0.85,1.05,1.3,1.46],"range":["#10007a","#1e00b0","#2a00ff","#6b55ff","#a8a0ff","#e0deff","#f5eee0","#e5d2a6","#d4ae68","#c8953f","#bf7a22","#ba5f1d","#c2341a","#cc1a1a","#cc1a1a"],"interpolate":"rgb","nice":false,"zero":false}},"color":{"field":"value","type":"quantitative","scale":{"domain":[-1.55,-1.3,-1,-0.6,-0.3,-0.1,0,0.2,0.4,0.5,0.65,0.85,1.05,1.3,1.46],"range":["#10007a","#1e00b0","#2a00ff","#6b55ff","#a8a0ff","#e0deff","#f5eee0","#e5d2a6","#d4ae68","#c8953f","#bf7a22","#ba5f1d","#c2341a","#cc1a1a","#cc1a1a"],"interpolate":"rgb","nice":false,"zero":false},"legend":null}}},
{"data":{"values":[{"x":0.055,"x2":0.958,"y":1.227}]},"mark":{"type":"rule","color":"#aaa"},"encoding":{"x":{"field":"x","type":"quantitative","axis":null,"scale":{"domain":[0,1],"range":[337,458],"nice":false,"zero":false}},"x2":{"field":"x2"},"y":{"field":"y","type":"quantitative","axis":null,"scale":{"domain":[1,0],"range":[778,587],"nice":false,"zero":false}}}},
{"data":{"values":[{"t":"Tnp1","x":1.03,"y":0.087},{"t":"H1fnt","x":1.03,"y":0.157},{"t":"Piwil1","x":1.03,"y":0.227},{"t":"Capza3","x":1.03,"y":0.298},{"t":"Aurka","x":1.03,"y":0.37},{"t":"Ccdc63","x":1.03,"y":0.44},{"t":"Spo11","x":1.03,"y":0.51},{"t":"Prss42","x":1.03,"y":0.583},{"t":"Dhh","x":1.03,"y":0.653},{"t":"Acrbp","x":1.03,"y":0.724},{"t":"Ddx25","x":1.03,"y":0.794},{"t":"Spink2","x":1.03,"y":0.866},{"t":"spermatogenesis","x":0.133,"y":-0.058},{"t":"3 months","x":0.34,"y":1.265}]},"mark":{"type":"text"},"encoding":{"x":{"field":"x","type":"quantitative","axis":null,"scale":{"domain":[0,1],"range":[337,458],"nice":false,"zero":false}},"y":{"field":"y","type":"quantitative","axis":null,"scale":{"domain":[1,0],"range":[778,587],"nice":false,"zero":false}},"text":{"field":"t"}}},
{"data":{"values":[{"t":"G","x":-0.182,"y":-0.037}]},"mark":{"type":"text","fontWeight":"bold","fontSize":13,"color":"#000"},"encoding":{"x":{"field":"x","type":"quantitative","axis":null,"scale":{"domain":[0,1],"range":[337,458],"nice":false,"zero":false}},"y":{"field":"y","type":"quantitative","axis":null,"scale":{"domain":[1,0],"range":[778,587],"nice":false,"zero":false}},"text":{"field":"t"}}},

{"data":{"name":"g"},"transform":[{"fold":["a","b","c","d"]}],"mark":"rect","encoding":{"x":{"field":"key","type":"nominal","axis":null,"scale":{"domain":["a","b","c","d"],"range":[521,642],"paddingInner":0,"paddingOuter":0}},"y":{"field":"r","type":"ordinal","sort":null,"axis":null,"scale":{"range":[587,777],"paddingInner":0,"paddingOuter":0}},"color":{"field":"value","type":"quantitative","title":null,"scale":{"domain":[-1.55,-1.3,-1,-0.6,-0.3,-0.1,0,0.2,0.4,0.5,0.65,0.85,1.05,1.3,1.46],"range":["#10007a","#1e00b0","#2a00ff","#6b55ff","#a8a0ff","#e0deff","#f5eee0","#e5d2a6","#d4ae68","#c8953f","#bf7a22","#ba5f1d","#c2341a","#cc1a1a","#cc1a1a"],"interpolate":"rgb","nice":false,"zero":false},"legend":{"orient":"none","legendX":728,"legendY":747,"gradientLength":50,"gradientThickness":4,"values":[-1,0,1],"labelFontSize":10.5,"labelOffset":2,"gradientStrokeWidth":0}}}},
{"data":{"name":"g"},"transform":[{"fold":["a","b","c","d"]}],"mark":{"type":"rect","strokeWidth":0.6},"encoding":{"x":{"field":"key","type":"nominal","title":null,"scale":{"domain":["a","b","c","d"],"range":[521,642],"paddingInner":0,"paddingOuter":0},"axis":{"orient":"bottom","offset":-57,"labelAngle":-90,"labelPadding":3,"labelFontSize":10.5,"labelExpr":"{'a':'Tet1-/- 2','b':'Tet1-/- 1','c':'WT2','d':'WT1'}[datum.value]"}},"y":{"field":"r","type":"ordinal","sort":null,"axis":null,"scale":{"range":[587,777],"paddingInner":0,"paddingOuter":0}},"stroke":{"field":"value","type":"quantitative","legend":null,"scale":{"domain":[-1.55,-1.3,-1,-0.6,-0.3,-0.1,0,0.2,0.4,0.5,0.65,0.85,1.05,1.3,1.46],"range":["#10007a","#1e00b0","#2a00ff","#6b55ff","#a8a0ff","#e0deff","#f5eee0","#e5d2a6","#d4ae68","#c8953f","#bf7a22","#ba5f1d","#c2341a","#cc1a1a","#cc1a1a"],"interpolate":"rgb","nice":false,"zero":false}},"color":{"field":"value","type":"quantitative","legend":null,"scale":{"domain":[-1.55,-1.3,-1,-0.6,-0.3,-0.1,0,0.2,0.4,0.5,0.65,0.85,1.05,1.3,1.46],"range":["#10007a","#1e00b0","#2a00ff","#6b55ff","#a8a0ff","#e0deff","#f5eee0","#e5d2a6","#d4ae68","#c8953f","#bf7a22","#ba5f1d","#c2341a","#cc1a1a","#cc1a1a"],"interpolate":"rgb","nice":false,"zero":false}}}},
{"data":{"values":[{"x":0.088,"x2":0.967,"y":1.229}]},"mark":{"type":"rule","color":"#888"},"encoding":{"x":{"field":"x","type":"quantitative","axis":null,"scale":{"domain":[0,1],"range":[521,642],"nice":false,"zero":false}},"y":{"field":"y","type":"quantitative","axis":null,"scale":{"domain":[1,0],"range":[777,587],"nice":false,"zero":false}},"x2":{"field":"x2"}}},
{"data":{"values":[{"t":"Prm2","x":1.025,"y":0.049},{"t":"Paqr5","x":1.025,"y":0.12},{"t":"Iqcf1","x":1.025,"y":0.192},{"t":"Nectin2","x":1.025,"y":0.264},{"t":"H1fnt","x":1.025,"y":0.336},{"t":"Tssk6","x":1.025,"y":0.407},{"t":"Piwil1","x":1.025,"y":0.477},{"t":"Capza3","x":1.025,"y":0.551},{"t":"Aurka","x":1.025,"y":0.621},{"t":"Ccdc63","x":1.025,"y":0.692},{"t":"Dpy19l2","x":1.025,"y":0.764},{"t":"Spo11","x":1.025,"y":0.835},{"t":"Zpbp","x":1.025,"y":0.907},{"t":"Adad1","x":1.025,"y":0.977},{"t":"Zpbp2","x":1.417,"y":0.049},{"t":"Spag6l","x":1.401,"y":0.12},{"t":"Prss42","x":1.401,"y":0.192},{"t":"Dhh","x":1.401,"y":0.264},{"t":"Acrbp","x":1.401,"y":0.336},{"t":"Ddx25","x":1.401,"y":0.407},{"t":"Klhl10","x":1.401,"y":0.477},{"t":"Pdilt","x":1.42,"y":0.551},{"t":"Cabyr","x":1.423,"y":0.621},{"t":"Catsperd","x":1.409,"y":0.692},{"t":"Spaca1","x":1.409,"y":0.764},{"t":"Tssk2","x":1.409,"y":0.835},{"t":"Ccna1","x":1.423,"y":0.904},{"t":"germ cell development","x":0.014,"y":-0.067},{"t":"3 months","x":0.36,"y":1.269}]},"mark":{"type":"text"},"encoding":{"x":{"field":"x","type":"quantitative","axis":null,"scale":{"domain":[0,1],"range":[521,642],"nice":false,"zero":false}},"y":{"field":"y","type":"quantitative","axis":null,"scale":{"domain":[1,0],"range":[777,587],"nice":false,"zero":false}},"text":{"field":"t"}}}
]}
